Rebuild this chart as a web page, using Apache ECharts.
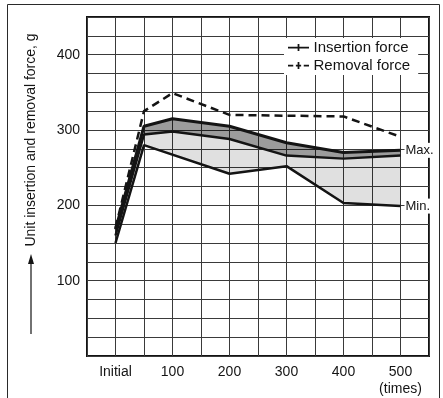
<!DOCTYPE html>
<html><head><meta charset="utf-8">
<script src="https://cdn.jsdelivr.net/npm/echarts@6/dist/echarts.min.js"></script>
<style>html,body{margin:0;padding:0;background:#fff}#c{width:443px;height:398px}</style>
</head><body><div id="c"></div>
<script>
// ---- data ----
const xTickValues = [0, 100, 200, 300, 400, 500];
const xTickLabels = ['Initial', '100', '200', '300', '400', '500\n(times)'];
const yTickValues = [100, 200, 300, 400];

const removalX = [0, 50, 100, 200, 400, 500];
const removalForce = [170, 325, 349, 320, 318, 291];

const upperX = [0, 50, 100, 200, 300, 400, 500];
const insertionMax = [168, 305, 315, 305, 283, 270, 273];

const bandX = [0, 50, 100, 200, 300, 400, 500];
const insertionBand = [160, 294, 298, 288, 266, 262, 266];

const minX = [0, 50, 200, 300, 400, 500];
const insertionMin = [150, 280, 242, 252, 203, 199];

const pairs = (xs, ys) => xs.map((x, i) => [x, ys[i]]);
const FONT = '"Liberation Sans", Arial, sans-serif';
const INK = '#141414';

function areaSeries(topX, topY, botX, botY, fill) {
  return {
    type: 'custom', z: 1, silent: true, clip: true,
    data: pairs(topX, topY),
    renderItem: function (params, api) {
      if (params.dataIndex !== 0) return null;
      const pts = [];
      for (let i = 1; i < topX.length; i++) pts.push(api.coord([topX[i], topY[i]]));
      for (let i = botX.length - 1; i >= 1; i--) pts.push(api.coord([botX[i], botY[i]]));
      return { type: 'polygon', shape: { points: pts }, style: { fill: fill }, z2: 0 };
    }
  };
}

const solidIcon = 'path://M0,3H24V5H0Z M11,0H13V8H11Z';
const dashIcon = 'path://M0,3H6V5H0Z M9,3H15V5H9Z M18,3H24V5H18Z M11,0H13V8H11Z';

const chart = echarts.init(document.getElementById('c'), null, { renderer: 'canvas' });
chart.setOption({
  animation: false,
  backgroundColor: '#fff',
  textStyle: { fontFamily: FONT },
  grid: { left: 87, right: 14, top: 17, bottom: 41, show: true, borderColor: INK, borderWidth: 2, backgroundColor: 'transparent' },
  legend: {
    data: [
      { name: 'Insertion force', icon: solidIcon },
      { name: 'Removal force', icon: dashIcon }
    ],
    orient: 'vertical', left: 284, top: 38, itemGap: 3, itemWidth: 22, itemHeight: 7,
    padding: [2, 8, 2, 4], backgroundColor: '#fff',
    itemStyle: { color: INK, borderWidth: 0 },
    textStyle: { fontFamily: FONT, fontSize: 15, color: INK, padding: [0, 0, 0, -1] }
  },
  xAxis: {
    type: 'value', min: -50, max: 550, interval: 50,
    axisLine: { show: false }, axisTick: { show: false },
    splitLine: { show: true, lineStyle: { color: '#3a3a3a', width: 1 } },
    axisLabel: {
      fontFamily: FONT, fontSize: 14, color: INK, margin: 8, lineHeight: 17,
      formatter: function (v) { const k = xTickValues.indexOf(v); return k >= 0 ? xTickLabels[k] : ''; }
    }
  },
  yAxis: {
    type: 'value', min: 0, max: 450, interval: 25,
    axisLine: { show: false }, axisTick: { show: false },
    splitLine: { show: true, lineStyle: { color: '#3a3a3a', width: 1 } },
    axisLabel: {
      fontFamily: FONT, fontSize: 14, color: INK, margin: 7,
      formatter: function (v) { return yTickValues.indexOf(v) >= 0 ? String(v) : ''; }
    }
  },
  graphic: [
    { type: 'rect', shape: { x: 7.5, y: 4.5, width: 432, height: 420 }, style: { fill: 'none', stroke: '#2a2a2a', lineWidth: 1 }, z: 0 },
    { type: 'text', x: 31, y: 140, rotation: Math.PI / 2,
      style: { text: 'Unit insertion and removal force, g', font: '14px ' + FONT, fill: INK, align: 'center', verticalAlign: 'middle' } },
    { type: 'line', shape: { x1: 31, y1: 334, x2: 31, y2: 262 }, style: { stroke: INK, lineWidth: 1.2 } },
    { type: 'polygon', shape: { points: [[31, 254], [28, 264], [34, 264]] }, style: { fill: INK } }
  ],
  series: [
    areaSeries(upperX, insertionMax, minX, insertionMin, 'rgba(0,0,0,0.12)'),
    areaSeries(upperX, insertionMax, bandX, insertionBand, 'rgba(0,0,0,0.30)'),
    {
      name: 'Insertion force', type: 'line', z: 3, symbol: 'none',
      data: pairs(upperX, insertionMax),
      lineStyle: { color: INK, width: 3, type: 'solid' }, itemStyle: { color: INK },
      endLabel: { show: true, formatter: 'Max.', color: INK, fontFamily: FONT, fontSize: 13, distance: 4, backgroundColor: '#fff', padding: [1, 1, 1, 1] }
    },
    {
      name: 'Insertion force', type: 'line', z: 3, symbol: 'none',
      data: pairs(bandX, insertionBand),
      lineStyle: { color: INK, width: 2.5, type: 'solid' }, itemStyle: { color: INK }
    },
    {
      name: 'Insertion force', type: 'line', z: 3, symbol: 'none',
      data: pairs(minX, insertionMin),
      lineStyle: { color: INK, width: 2.5, type: 'solid' }, itemStyle: { color: INK },
      endLabel: { show: true, formatter: 'Min.', color: INK, fontFamily: FONT, fontSize: 13, distance: 4, backgroundColor: '#fff', padding: [1, 1, 1, 1] }
    },
    {
      name: 'Removal force', type: 'line', z: 3, symbol: 'none',
      data: pairs(removalX, removalForce),
      lineStyle: { color: INK, width: 2.5, type: [8, 5] }, itemStyle: { color: INK }
    }
  ]
});
</script>
</body></html>
